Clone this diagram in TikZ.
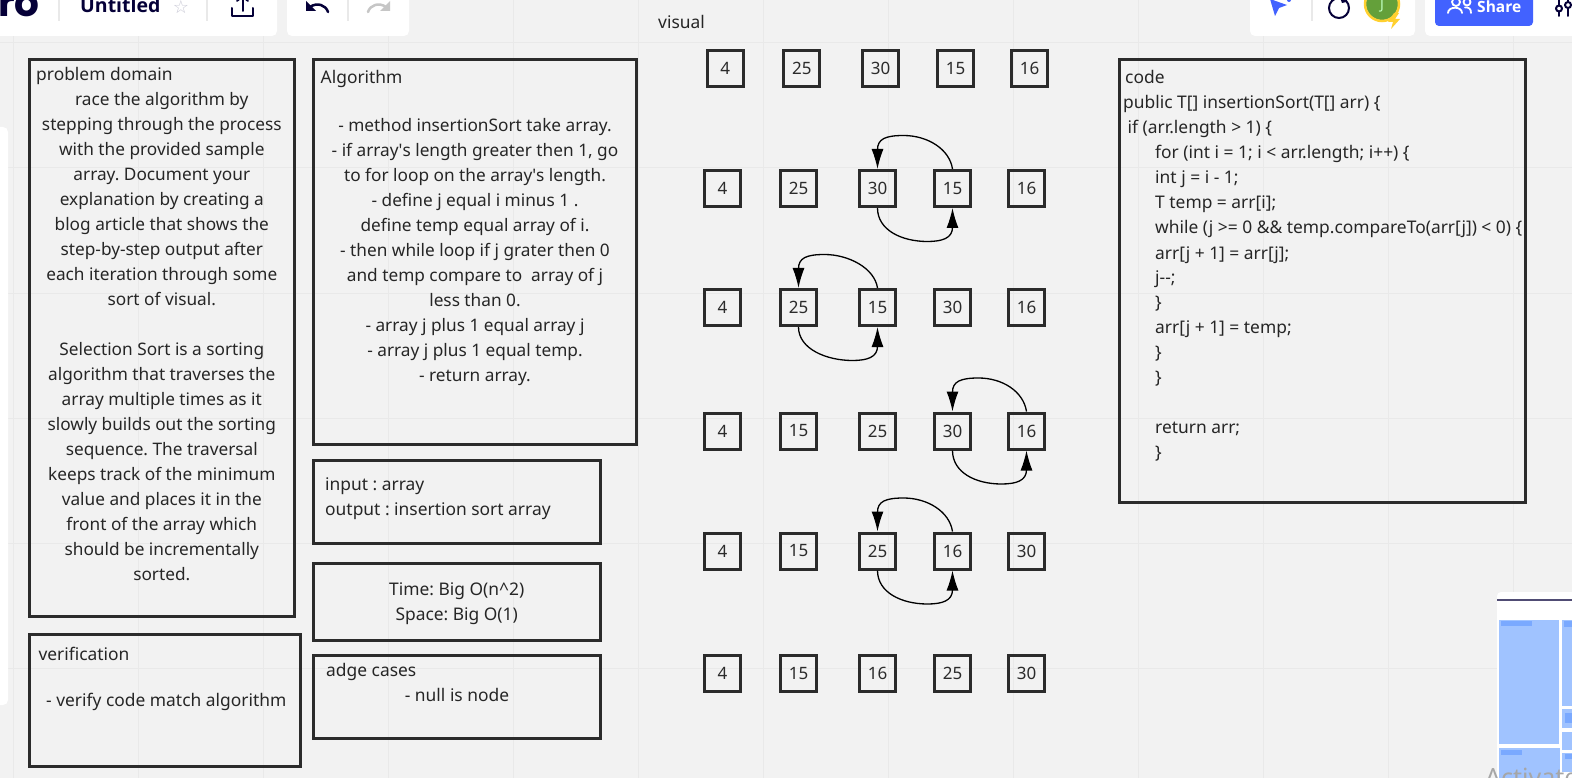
\documentclass[tikz,border=0pt]{standalone}
\usepackage{fontspec}
\setmainfont{Noto Sans}
\newfontfamily\uifont{Open Sans}
\newfontfamily\logofont{Poppins}
\usetikzlibrary{arrows.meta,calc}
\definecolor{bgc}{HTML}{F2F2F2}
\definecolor{gridc}{HTML}{E9E9E9}
\definecolor{inkc}{HTML}{2B2B2B}
\definecolor{navyc}{HTML}{050038}
\definecolor{blueb}{HTML}{4262FF}
\definecolor{mapa}{HTML}{A0C3FF}
\definecolor{mapb}{HTML}{7AA9FF}
\definecolor{starc}{HTML}{C9C9D6}
\definecolor{ringc}{HTML}{FFD02F}
\definecolor{greenc}{HTML}{64A03A}
\tikzset{
  x=1pt,y=-1pt,
  frame/.style={draw=inkc,line width=3pt,fill=none,inner sep=0pt,anchor=north west},
  cell/.style={draw=inkc,line width=3pt,minimum size=36pt,inner sep=0pt,font=\fontsize{17}{20}\selectfont,text=inkc},
  txt/.style={inner sep=0pt,anchor=base west,text=black!85,font=\fontsize{17.4}{25}\selectfont},
  ctxt/.style={inner sep=0pt,anchor=base,align=center,text=black!85,font=\fontsize{17.4}{25}\selectfont},
  arc/.style={draw=black,line width=1.3pt,-{Latex[length=20pt,width=12pt]}},
  panel/.style={fill=white,rounded corners=5pt,draw=none},
  divider/.style={draw=gridc,line width=1.5pt},
  iconl/.style={draw=navyc,line width=2pt,line cap=round,line join=round,fill=none}
}
\begin{document}
\frenchspacing
\begin{tikzpicture}
\useasboundingbox (0,0) rectangle (1572,778);
\clip (0,0) rectangle (1572,778);
\fill[bgc] (0,0) rectangle (1572,778);
% grid
\foreach \gx in {13,138,263,388,513,638,763,888,1013,1138,1263,1388,1513}
  \draw[gridc,line width=1pt] (\gx,0) -- (\gx,778);
\foreach \gy in {43,168,293,418,543,668}
  \draw[gridc,line width=1pt] (0,\gy) -- (1572,\gy);
% chrome panels
\fill[panel] (-10,-10) rectangle (277,36);
\fill[panel] (287,-10) rectangle (409,36);
\fill[panel] (1250,-10) rectangle (1415,36);
\fill[panel] (1425,-10) rectangle (1582,36);
\fill[panel] (-10,127) rectangle (8,705);
\node[inner sep=0pt,anchor=base west,text=navyc,font=\logofont\fontsize{39}{40}\selectfont\bfseries] (logo) at (-2,17) {ro};
\node[inner sep=0pt,anchor=base west,text=navyc,font=\uifont\fontsize{19.5}{22}\selectfont\bfseries] (title) at (80,13) {Untitled};
\node[inner sep=0pt,text=starc,font=\fontsize{18}{20}\selectfont] (star) at (181,7) {\fontspec{DejaVu Sans}☆};
\draw[divider] (59,-2) -- (59,21);
\draw[divider] (207,-2) -- (207,21);
\draw[divider] (348,-2) -- (348,21);
\draw[divider] (1312,-2) -- (1312,21);
% upload icon
\draw[iconl] (232,8) -- (232,16.5) -- (253,16.5) -- (253,8);
\draw[iconl] (242.5,11) -- (242.5,-3);
\draw[iconl] (237,1) -- (242.5,-4) -- (248,1);
% undo / redo
\draw[iconl,line width=2.5pt] (328,12) .. controls (326,5) and (317,2) .. (310,7);
\fill[navyc] (306,1) -- (306,11) -- (316,11) -- cycle;
\draw[gridc!85!black,line width=2.5pt,line cap=round] (368,12) .. controls (370,5) and (379,2) .. (386,7);
\fill[gridc!85!black] (390,1) -- (390,11) -- (380,11) -- cycle;
% pointer, fire, avatar
\fill[blueb] (1270,-1) -- (1287,5) -- (1279,8) -- (1275,16) -- cycle;
\fill[blueb] (1289,0) circle (2pt);
\draw[navyc,line width=2pt] (1339,8) circle (10pt);
\fill[white] (1340,-3) circle (3pt);
\fill[navyc] (1339,-5) -- (1346,2) -- (1342,3) -- cycle;
\fill[greenc] (1382,4) circle (16pt);
\draw[ringc,line width=2.5pt] (1382,4) circle (17pt);
\node[inner sep=0pt,text=white!75!green,font=\fontsize{14}{16}\selectfont] (avatar) at (1382,6) {J};
\fill[ringc] (1394,13) -- (1388,22) -- (1393,22) -- (1391,29) -- (1400,19) -- (1395,19) -- (1399,13) -- cycle;
% share button
\fill[blueb,rounded corners=4pt] (1435,-10) rectangle (1533,26);
\node[inner sep=0pt,anchor=base west,text=white,font=\uifont\fontsize{15.5}{18}\selectfont\bfseries] (share) at (1477,12.5) {Share};
\draw[white,line width=1.8pt] (1456,2) circle (4pt);
\draw[white,line width=1.8pt] (1467,2) circle (3.5pt);
\draw[white,line width=1.8pt,line cap=round] (1448,13) .. controls (1448,6) and (1462,6) .. (1462,13);
\draw[white,line width=1.8pt,line cap=round] (1465,7.5) .. controls (1469,7) and (1471,9) .. (1471,13);
% settings
\draw[iconl] (1559,-3) -- (1559,5);
\draw[iconl] (1559,12) -- (1559,16);
\draw[iconl] (1559,8.5) circle (3pt);
\draw[iconl] (1568,-3) -- (1568,1);
\draw[iconl] (1568,9) -- (1568,16);
\draw[iconl] (1568,5) circle (3pt);
% frames
\node[frame,minimum width=264.4pt,minimum height=556pt] (problem) at (28.3,58.5) {};
\node[frame,minimum width=322.7pt,minimum height=384.5pt] (algo) at (312,58.5) {};
\node[frame,minimum width=286.7pt,minimum height=82.7pt] (inout) at (312,459) {};
\node[frame,minimum width=286.7pt,minimum height=77pt] (cost) at (312,562.3) {};
\node[frame,minimum width=286.7pt,minimum height=83.3pt] (edge) at (312,653.7) {};
\node[frame,minimum width=270.4pt,minimum height=131.4pt] (verify) at (28.3,633.3) {};
\node[frame,minimum width=405.4pt,minimum height=442.7pt] (code) at (1118.3,58.5) {};
% texts
\node[ctxt] (visual) at (681.5,28.5) {visual};
\node[txt] (t1) at (36,80.5) {problem domain};
\node[ctxt,anchor=north,font=\fontsize{17.25}{25}\selectfont] (t2) at (161.8,92.5) {race the algorithm by\\stepping through the process\\with the provided sample\\array. Document your\\explanation by creating a\\blog article that shows the\\step-by-step output after\\each iteration through some\\sort of visual.\\ \mbox{}\\Selection Sort is a sorting\\algorithm that traverses the\\array multiple times as it\\slowly builds out the sorting\\sequence. The traversal\\keeps track of the minimum\\value and places it in the\\front of the array which\\should be incrementally\\sorted.};
\node[txt] (t3) at (320.5,84) {Algorithm};
\node[ctxt,anchor=north,font=\fontsize{17.25}{25}\selectfont] (t4) at (475,118.5) {- method insertionSort take array.\\- if array\textquotesingle s length greater then 1, go\\to for loop on the array\textquotesingle s length.\\- define j equal i minus 1 .\\define temp equal array of i.\\- then while loop if j grater then 0\\and temp compare to\ \ array of j\\less than 0.\\- array j plus 1 equal array j\\- array j plus 1 equal temp.\\- return array.};
\node[txt] (t5) at (325,490) {input : array};
\node[txt] (t6) at (325,515) {output : insertion sort array};
\node[ctxt,anchor=north] (t7) at (456.7,582) {Time: Big O(n\char`\^2)\\Space: Big O(1)};
\node[txt] (t8) at (326,676) {adge cases};
\node[ctxt] (t9) at (457,701) {- null is node};
\node[txt] (t10) at (38.3,660) {verification};
\node[txt] (t11) at (46,706) {- verify code match algorithm};
\node[txt] (c1) at (1125,84) {code};
\node[txt] (c2) at (1123,109) {public T[] insertionSort(T[] arr) \{};
\node[txt] (c3) at (1127.5,134) {if (arr.length > 1) \{};
\node[txt] (c4) at (1155,159) {for (int i = 1; i < arr.length; i++) \{};
\node[txt] (c5) at (1155,184) {int j = i - 1;};
\node[txt] (c6) at (1155,209) {T temp = arr[i];};
\node[txt] (c7) at (1155,234) {while (j >= 0 \&\& temp.compareTo(arr[j]) < 0) \{};
\node[txt] (c8) at (1155,259) {arr[j + 1] = arr[j];};
\node[txt] (c9) at (1155,283.6) {j-{}-;};
\node[txt] (c10) at (1155,308.6) {\}};
\node[txt] (c11) at (1155,333.5) {arr[j + 1] = temp;};
\node[txt] (c12) at (1155,358.5) {\}};
\node[txt] (c13) at (1155,383.4) {\}};
\node[txt] (c14) at (1155,433.3) {return arr;};
\node[txt] (c15) at (1155,458.3) {\}};
% rows
\foreach \nm/\cx/\cy/\val in {
 a1/725.3/68.7/4,a2/801.8/68.7/25,a3/880.5/68.7/30,a4/955.7/68.7/15,a5/1029.5/68.7/16,
 b1/722.5/188.5/4,b2/798.5/188.5/25,b3/877.5/188.5/30,b4/952.5/188.5/15,b5/1026.5/188.5/16,
 d1/722.5/307.5/4,d2/798.5/307.5/25,d3/877.5/307.5/15,d4/952.5/307.5/30,d5/1026.5/307.5/16,
 e1/722.5/431/4,e2/798.5/431/15,e3/877.5/431/25,e4/952.5/431/30,e5/1026.5/431/16,
 f1/722.5/551/4,f2/798.5/551/15,f3/877.5/551/25,f4/952.5/551/16,f5/1026.5/551/30,
 g1/722.5/673.5/4,g2/798.5/673.5/15,g3/877.5/673.5/16,g4/952.5/673.5/25,g5/1026.5/673.5/30}
 \node[cell] (\nm) at (\cx,\cy) {\val};
% swap arrows
\foreach \p/\q in {b3/b4,d2/d3,e4/e5,f3/f4}{
  \draw[arc] (\q.north) .. controls +(-3,-20) and +(24,0) .. ($(\p.north)+(26,-33.5)$) .. controls +(-18,0) and +(0,-30) .. (\p.north);
  \draw[arc] (\p.south) .. controls +(0,22) and +(-26,0) .. ($(\q.south)+(-25,33.5)$) .. controls +(15,0) and +(0,30) .. (\q.south);
}
% minimap
\fill[white,rounded corners=4pt] (1497,592) rectangle (1590,800);
\draw[navyc!70!white,line width=1.5pt] (1497,600) -- (1572,600);
\fill[mapa] (1499,620) rectangle (1559,744);
\fill[mapb] (1501,621) rectangle (1532,626);
\fill[mapa] (1562,620) rectangle (1572,706);
\fill[mapb] (1564,621) rectangle (1572,627);
\fill[mapa] (1562,709) rectangle (1572,728);
\fill[mapb] (1565,713) rectangle (1572,723);
\fill[mapa] (1562,732) rectangle (1572,750);
\fill[mapa] (1562,753) rectangle (1572,772);
\fill[mapb] (1565,754) rectangle (1572,759);
\fill[mapa] (1499,748) rectangle (1560,778);
\fill[mapb] (1501,750) rectangle (1522,755);
\node[inner sep=0pt,anchor=base west,text=black!35,font=\fontsize{25}{27}\selectfont] (wm) at (1485,786) {Activate};
\end{tikzpicture}
\end{document}
